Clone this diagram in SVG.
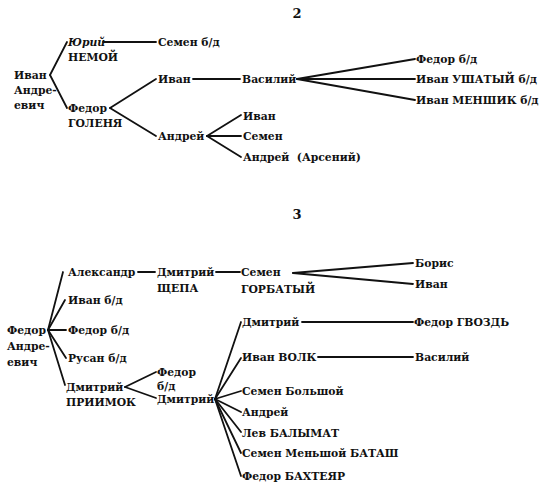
<svg xmlns="http://www.w3.org/2000/svg" width="550" height="493" viewBox="0 0 550 493">
<style>
text{font-family:"DejaVu Serif","Liberation Serif",serif;font-weight:bold;font-size:10.8px;fill:#111}
.n{font-size:13px}
.it{font-style:italic}
#connectors line{stroke:#111;stroke-width:1.8;fill:none;stroke-linecap:round}
</style>
<rect width="550" height="493" fill="#fff"/>
<g id="connectors">
<line x1="50" y1="75" x2="67" y2="42"/>
<line x1="50" y1="75" x2="67" y2="108"/>
<line x1="103" y1="42" x2="156" y2="42"/>
<line x1="110" y1="108" x2="156" y2="79"/>
<line x1="110" y1="108" x2="156" y2="136"/>
<line x1="193" y1="79" x2="240" y2="79"/>
<line x1="297" y1="79" x2="415" y2="59"/>
<line x1="297" y1="79" x2="415" y2="79"/>
<line x1="297" y1="79" x2="415" y2="100"/>
<line x1="207" y1="136" x2="241" y2="115"/>
<line x1="207" y1="136" x2="241" y2="136"/>
<line x1="207" y1="136" x2="241" y2="157"/>
<line x1="48" y1="330" x2="63" y2="272"/>
<line x1="48" y1="330" x2="65" y2="300"/>
<line x1="48" y1="330" x2="66" y2="330"/>
<line x1="48" y1="330" x2="66" y2="358"/>
<line x1="48" y1="330" x2="65" y2="385"/>
<line x1="138" y1="272" x2="155" y2="272"/>
<line x1="216" y1="272" x2="240" y2="272"/>
<line x1="293" y1="273" x2="413" y2="263"/>
<line x1="293" y1="273" x2="413" y2="284"/>
<line x1="125" y1="387" x2="156" y2="372"/>
<line x1="125" y1="387" x2="156" y2="398"/>
<line x1="215" y1="399" x2="241" y2="322"/>
<line x1="215" y1="399" x2="241" y2="358"/>
<line x1="215" y1="399" x2="241" y2="391"/>
<line x1="215" y1="399" x2="241" y2="412"/>
<line x1="215" y1="399" x2="241" y2="432"/>
<line x1="215" y1="399" x2="241" y2="453"/>
<line x1="215" y1="399" x2="241" y2="476"/>
<line x1="302" y1="322" x2="413" y2="322"/>
<line x1="318" y1="357" x2="413" y2="357"/>
</g>
<text class="n" x="297" y="18" text-anchor="middle">2</text>
<text class="n" x="297" y="219" text-anchor="middle">3</text>
<g id="ivan-andreevich"><text x="14" y="79">Иван</text><text x="14" y="94">Андре-</text><text x="14" y="109">евич</text></g>
<g id="yuri"><text class="it" x="68" y="46">Юрий</text><text x="68" y="61">НЕМОЙ</text></g>
<g id="semen1"><text x="158" y="46">Семен б/д</text></g>
<g id="fedor-golenya"><text x="68" y="112">Федор</text><text x="68" y="127">ГОЛЕНЯ</text></g>
<g id="ivan2"><text x="158" y="83">Иван</text></g>
<g id="vasily"><text x="242" y="83">Василий</text></g>
<g id="fedor2"><text x="416" y="63">Федор б/д</text></g>
<g id="ivan-ushaty"><text x="416" y="83">Иван УШАТЫЙ б/д</text></g>
<g id="ivan-menshik"><text x="416" y="104">Иван МЕНШИК б/д</text></g>
<g id="andrey"><text x="158" y="140">Андрей</text></g>
<g id="ivan3"><text x="243" y="120">Иван</text></g>
<g id="semen2"><text x="243" y="140">Семен</text></g>
<g id="andrey-arseny"><text x="243" y="161" xml:space="preserve">Андрей  (Арсений)</text></g>
<g id="fedor-andreevich"><text x="7" y="334">Федор</text><text x="7" y="350">Андре-</text><text x="7" y="366">евич</text></g>
<g id="alexandr"><text x="68" y="276">Александр</text></g>
<g id="dmitry-shchepa"><text x="157" y="276">Дмитрий</text><text x="157" y="292">ЩЕПА</text></g>
<g id="semen-gorbaty"><text x="241" y="276">Семен</text><text x="241" y="293">ГОРБАТЫЙ</text></g>
<g id="boris"><text x="415" y="267">Борис</text></g>
<g id="ivan4"><text x="415" y="288">Иван</text></g>
<g id="ivan-bd"><text x="68" y="304">Иван б/д</text></g>
<g id="fedor-bd"><text x="68" y="334">Федор б/д</text></g>
<g id="rusan"><text x="68" y="362">Русан б/д</text></g>
<g id="dmitry-priimok"><text x="66" y="391">Дмитрий</text><text x="66" y="406">ПРИИМОК</text></g>
<g id="fedor-bd2"><text x="157" y="376">Федор</text><text x="157" y="390">б/д</text></g>
<g id="dmitry2"><text x="157" y="403">Дмитрий</text></g>
<g id="dmitry3"><text x="242" y="326">Дмитрий</text></g>
<g id="fedor-gvozd"><text x="414" y="326">Федор ГВОЗДЬ</text></g>
<g id="ivan-volk"><text x="242" y="361">Иван ВОЛК</text></g>
<g id="vasily2"><text x="415" y="361">Василий</text></g>
<g id="semen-bolshoy"><text x="242" y="395">Семен Большой</text></g>
<g id="andrey2"><text x="242" y="416">Андрей</text></g>
<g id="lev"><text x="242" y="437">Лев БАЛЫМАТ</text></g>
<g id="semen-menshoy"><text x="242" y="457">Семен Меньшой БАТАШ</text></g>
<g id="fedor-bakhteyar"><text x="242" y="480">Федор БАХТЕЯР</text></g>
</svg>
